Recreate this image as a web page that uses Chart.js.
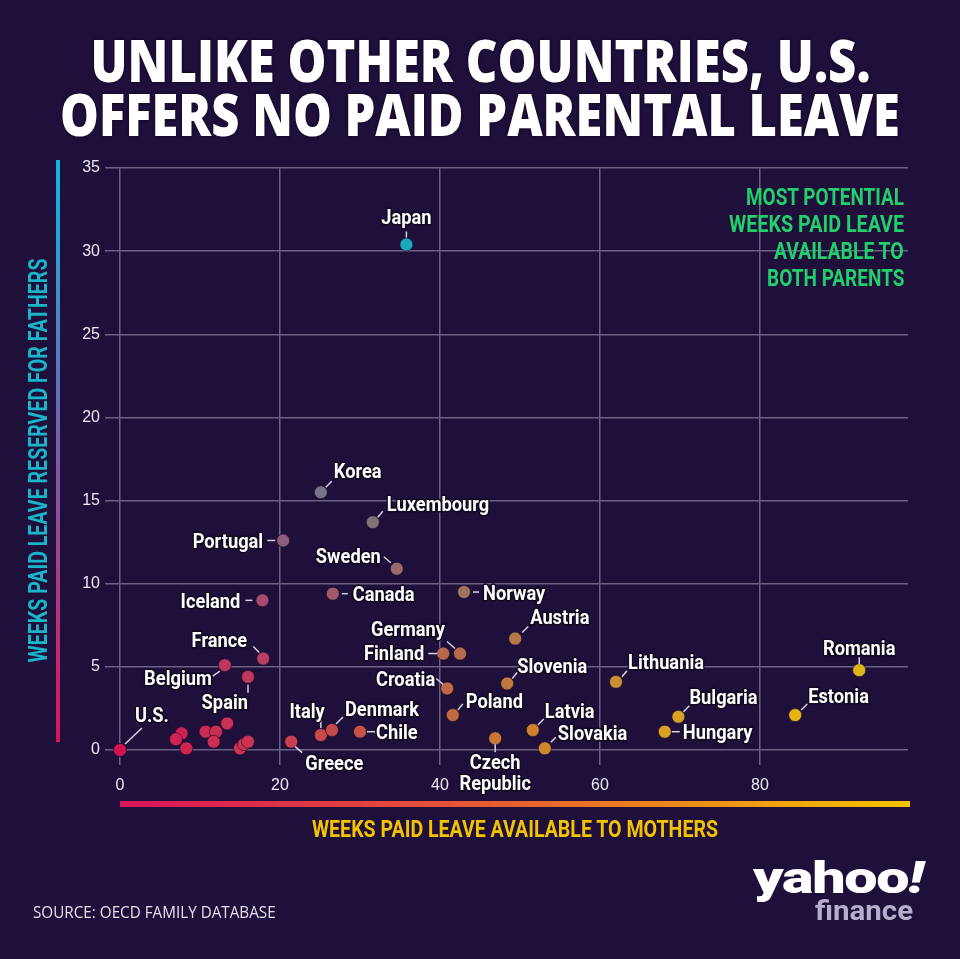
<!DOCTYPE html>
<html>
<head>
<meta charset="utf-8">
<title>Paid parental leave</title>
<script src="https://cdn.jsdelivr.net/npm/chart.js@4.4.1/dist/chart.umd.min.js"></script>
<style>
  body { margin: 0; background: #1e0f3b; }
  #page { position: relative; width: 960px; height: 959px; overflow: hidden; background: #1e0f3b; }
  #leaveChart { position: absolute; left: 0; top: 0; }
  .txt { position: absolute; white-space: nowrap; line-height: 1; }
  .title { font-family: "Open Sans"; font-weight: 800; font-size: 58px; color: #fff; text-shadow: 0 0 3px #0b0418; }
  .cond { font-family: Roboto; font-weight: 700; font-size: 24px; }
  .note { color: #21d06a; }
  .bar { position: absolute; }
</style>
</head>
<body>
<div id="page">
  <canvas id="leaveChart" width="960" height="959"></canvas>

  <div class="txt title fit" data-w="780" data-x="480" data-a="center" style="top:31px">UNLIKE OTHER COUNTRIES, U.S.</div>
  <div class="txt title fit" data-w="840" data-x="480" data-a="center" style="top:85px">OFFERS NO PAID PARENTAL LEAVE</div>

  <div class="txt cond note fit" data-w="158" data-x="904" data-a="right" style="top:185px">MOST POTENTIAL</div>
  <div class="txt cond note fit" data-w="175" data-x="904" data-a="right" style="top:212px">WEEKS PAID LEAVE</div>
  <div class="txt cond note fit" data-w="130" data-x="904" data-a="right" style="top:239px">AVAILABLE TO</div>
  <div class="txt cond note fit" data-w="137" data-x="904" data-a="right" style="top:266px">BOTH PARENTS</div>

  <div class="bar" style="left:56px;top:160px;width:4px;height:582px;background:linear-gradient(to bottom,#12b8e0,#6c68b0 45%,#b8307a 80%,#d8145a)"></div>
  <div class="txt cond" id="yTitle" style="color:#19b5c8;font-size:25px">WEEKS PAID LEAVE RESERVED FOR FATHERS</div>

  <div class="bar" style="left:120px;top:801px;width:790px;height:6px;background:linear-gradient(to right,#d8145a,#e8602e 50%,#f5c400)"></div>
  <div class="txt cond fit" data-w="406" data-x="515" data-a="center" style="top:817px;color:#f3c200">WEEKS PAID LEAVE AVAILABLE TO MOTHERS</div>

  <div class="txt fit" data-w="243" data-x="33" data-a="left" style="top:903px;font-family:'Open Sans';font-size:17px;color:#e4e0ec">SOURCE: OECD FAMILY DATABASE</div>

  <div class="txt fit" data-w="170" data-x="753" data-a="left" style="top:855px;font-family:Roboto;font-weight:900;font-size:45px;color:#fff;letter-spacing:-1px">yahoo<i>!</i></div>
  <div class="txt fit" data-w="98" data-x="815" data-a="left" style="top:897px;font-family:Roboto;font-weight:700;font-size:28px;color:#b7afca">finance</div>
</div>

<script>
// weeks of paid leave (OECD family database)
const countries = [
  "U.S.", "Japan", "Korea", "Luxembourg", "Portugal", "Sweden", "Iceland", "Canada",
  "Norway", "Austria", "Germany", "Finland", "France", "Belgium", "Spain", "Slovenia",
  "Croatia", "Lithuania", "Romania", "Poland", "Estonia", "Bulgaria", "Latvia", "Hungary",
  "Czech Republic", "Slovakia", "Italy", "Denmark", "Chile", "Greece",
  "", "", "", "", "", "", "", "", "", ""
];
const mothersWeeks = [
  0, 35.8, 25.1, 31.6, 20.4, 34.6, 17.8, 26.6,
  43.0, 49.4, 42.5, 40.4, 17.9, 13.1, 16.0, 48.4,
  40.9, 62.0, 92.4, 41.6, 84.4, 69.8, 51.6, 68.1,
  46.9, 53.1, 25.1, 26.5, 30.0, 21.4,
  7.7, 7.0, 8.3, 10.7, 12.0, 11.7, 13.4, 15.0, 15.5, 16.0
];
const fathersWeeks = [
  0, 30.4, 15.5, 13.7, 12.6, 10.9, 9.0, 9.4,
  9.5, 6.7, 5.8, 5.8, 5.5, 5.1, 4.4, 4.0,
  3.7, 4.1, 4.8, 2.1, 2.1, 2.0, 1.2, 1.1,
  0.7, 0.1, 0.9, 1.2, 1.1, 0.5,
  1.0, 0.65, 0.1, 1.1, 1.1, 0.5, 1.6, 0.1, 0.35, 0.5
];
const xTicks = [0, 20, 40, 60, 80];
const yTicks = [0, 5, 10, 15, 20, 25, 30, 35];

// label placement: leader start, leader end, text anchor (px from the dot), alignment
const labelPlace = {
  "U.S.":       [5, -6, 22, -22, 15, -36, "left"],
  "Japan":      [0, -13, 0, -7, 0, -28, "center"],
  "Korea":      [5, -5, 11, -11, 13, -22, "left"],
  "Luxembourg": [5, -5, 10, -11, 14, -19, "left"],
  "Portugal":   [-16, 0, -8, 0, -20, 0, "right"],
  "Sweden":     [-13, -12, -6, -6, -16, -13, "right"],
  "Iceland":    [-17, 0, -10, 0, -22, 0, "right"],
  "Canada":     [9, 0, 15, 0, 20, 0, "left"],
  "Norway":     [9, 0, 15, 0, 19, 0, "left"],
  "Austria":    [7, -6, 13, -12, 15, -22, "left"],
  "Germany":    [-13, -12, -5, -5, -15, -25, "right"],
  "Finland":    [-15, 0, -6, 0, -19, -1, "right"],
  "France":     [-10, -12, -4, -6, -16, -19, "right"],
  "Belgium":    [-12, 11, -5, 6, -13, 12, "right"],
  "Spain":      [0, 8, 0, 16, 0, 25, "right"],
  "Slovenia":   [5, -5, 10, -11, 10, -18, "left"],
  "Croatia":    [-11, -10, -4, -4, -12, -10, "right"],
  "Lithuania":  [6, -5, 11, -11, 12, -20, "left"],
  "Romania":    [0, -13, 0, -6, 0, -23, "center"],
  "Poland":     [5, -5, 10, -11, 13, -15, "left"],
  "Estonia":    [6, -5, 12, -11, 13, -20, "left"],
  "Bulgaria":   [5, -5, 11, -11, 11, -20, "left"],
  "Latvia":     [5, -5, 11, -11, 12, -20, "left"],
  "Hungary":    [7, 0, 15, 0, 18, 0, "left"],
  "Czech Republic": [0, 6, 0, 14, 0, 23, "center"],
  "Slovakia":   [6, -6, 11, -11, 13, -16, "left"],
  "Italy":      [0, -15, 0, -7, 4, -25, "right"],
  "Denmark":    [4, -6, 11, -13, 13, -22, "left"],
  "Chile":      [7, 0, 15, 0, 16, 0, "left"],
  "Greece":     [4, 5, 11, 11, 14, 21, "left"]
};
const labelLines = { "Czech Republic": ["Czech", "Republic"] };

function mix(a, b, t) {
  return a.map((v, i) => Math.round(v + (b[i] - v) * t));
}
const xStops = [[0, [212, 20, 82]], [20, [202, 60, 80]], [45, [200, 118, 52]], [70, [222, 168, 26]], [92, [245, 198, 0]]];
function dotColour(x, y) {
  let c = xStops[xStops.length - 1][1];
  for (let k = 0; k < xStops.length - 1; k++) {
    const [x0, c0] = xStops[k], [x1, c1] = xStops[k + 1];
    if (x <= x1) { c = mix(c0, c1, (x - x0) / (x1 - x0)); break; }
  }
  const t = Math.min(1, y / 29);
  const target = mix([140, 60, 160], [24, 170, 186], Math.min(1, t * 1.6));
  const m = mix(c, target, t);
  return `rgb(${m[0]},${m[1]},${m[2]})`;
}

const points = mothersWeeks.map((x, i) => ({ x: x, y: fathersWeeks[i] }));
const colours = points.map(p => dotColour(p.x, p.y));

const labelPlugin = {
  id: "countryLabels",
  afterDatasetsDraw(chart) {
    const ctx = chart.ctx;
    const meta = chart.getDatasetMeta(0);
    ctx.save();
    meta.data.forEach((pt, i) => {
      const name = countries[i];
      const place = labelPlace[name];
      if (!name || !place) return;
      const [x1, y1, x2, y2, tx, ty, align] = place;
      ctx.strokeStyle = "#d6d2de";
      ctx.lineWidth = 1.5;
      ctx.beginPath();
      ctx.moveTo(pt.x + x1, pt.y + y1);
      ctx.lineTo(pt.x + x2, pt.y + y2);
      ctx.stroke();
      const lines = labelLines[name] || [name];
      lines.forEach((line, j) => {
        ctx.save();
        ctx.translate(pt.x + tx, pt.y + ty + 7.5 + j * 21);
        ctx.scale(0.87, 1);
        ctx.font = "700 21px Roboto";
        ctx.textAlign = align;
        ctx.lineJoin = "round";
        ctx.lineWidth = 3;
        ctx.strokeStyle = "#12081f";
        ctx.strokeText(line, 0, 0);
        ctx.fillStyle = "#ffffff";
        ctx.fillText(line, 0, 0);
        ctx.restore();
      });
    });
    ctx.restore();
  }
};

const tickFont = { family: "'Liberation Sans', Arial", size: 16 };
const gridStyle = { color: "#6a6282", lineWidth: 1.5, tickLength: 15 };

new Chart(document.getElementById("leaveChart"), {
  type: "scatter",
  data: {
    datasets: [{
      data: points,
      pointRadius: 6.5,
      pointHoverRadius: 6.5,
      pointBackgroundColor: colours,
      pointBorderColor: "rgba(20,8,40,0.6)",
      pointBorderWidth: 1,
      clip: false
    }]
  },
  options: {
    responsive: false,
    animation: false,
    layout: { padding: { left: 0, top: 168, right: 52, bottom: 169 } },
    plugins: { legend: { display: false }, tooltip: { enabled: false } },
    scales: {
      x: {
        type: "linear",
        min: 0,
        max: 98.5,
        afterBuildTicks: s => { s.ticks = xTicks.map(v => ({ value: v })); },
        afterFit: s => { s.height = 40; },
        ticks: { color: "#ece8f2", font: tickFont, padding: 11, maxRotation: 0 },
        grid: gridStyle,
        border: { display: false }
      },
      y: {
        min: 0,
        max: 35,
        afterBuildTicks: s => { s.ticks = yTicks.map(v => ({ value: v })); },
        afterFit: s => { s.width = 120; },
        ticks: { color: "#ece8f2", font: tickFont, padding: 5 },
        grid: gridStyle,
        border: { display: false }
      }
    }
  },
  plugins: [labelPlugin]
});

// squeeze the html text to the widths in the original graphic
document.querySelectorAll(".fit").forEach(el => {
  const w0 = el.offsetWidth;
  const target = +el.dataset.w;
  const x = +el.dataset.x;
  const a = el.dataset.a;
  el.style.left = (a === "center" ? x - w0 / 2 : a === "right" ? x - w0 : x) + "px";
  el.style.transformOrigin = a;
  el.style.transform = `scaleX(${target / w0})`;
});

const yt = document.getElementById("yTitle");
const yw = yt.offsetWidth, yh = yt.offsetHeight;
yt.style.left = (38 - yw / 2) + "px";
yt.style.top = (460 - yh / 2) + "px";
yt.style.transform = `rotate(-90deg) scaleX(${404 / yw})`;
</script>
</body>
</html>
